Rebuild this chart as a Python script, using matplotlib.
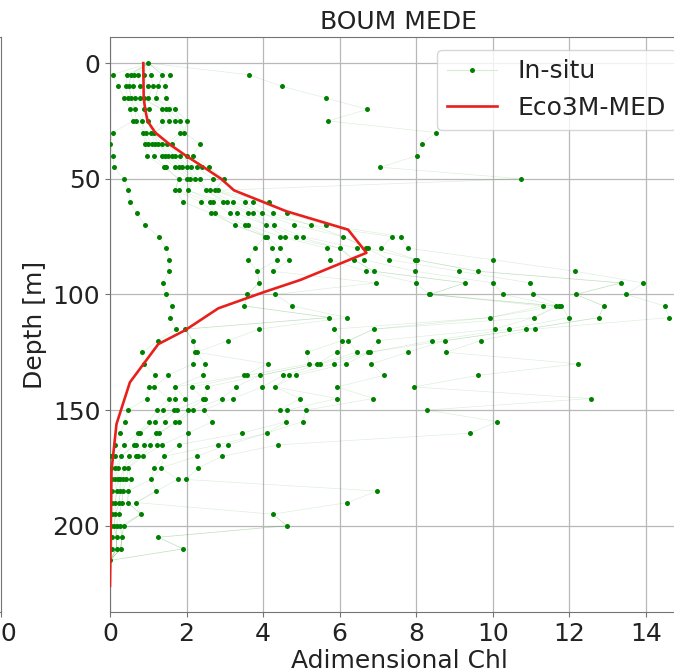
import matplotlib
matplotlib.use('Agg')
import matplotlib.pyplot as plt
from matplotlib.lines import Line2D

# ---------------- data ----------------
depths = [0, 5, 10, 15, 20, 25, 30, 35, 40, 45, 50, 55, 60, 65, 70, 75, 80, 85,
          90, 95, 100, 105, 110, 115, 120, 125, 130, 135, 140, 145, 150, 155,
          160, 165, 170, 175, 180, 185, 190, 195, 200, 205, 210, 215]

insitu = [
    [1.0],
    [0.07, 0.45, 0.54, 0.63, 0.72, 0.88, 1.07, 1.37, 1.56, 3.63],
    [0.22, 0.41, 0.50, 0.60, 0.79, 0.98, 1.12, 1.26, 1.43, 4.49],
    [0.36, 0.46, 0.55, 0.65, 0.79, 0.88, 1.0, 1.19, 1.45, 5.63],
    [0.52, 0.65, 0.88, 1.03, 1.36, 1.45, 1.55, 1.69, 6.72],
    [0.60, 0.69, 0.84, 1.0, 1.36, 1.53, 1.69, 1.83, 2.02, 5.70],
    [0.07, 0.87, 0.93, 1.07, 1.16, 1.83, 1.94, 8.52],
    [0.0, 0.91, 1.0, 1.09, 1.17, 1.26, 1.35, 1.48, 1.61, 2.35, 8.14],
    [0.09, 0.96, 1.15, 1.35, 1.44, 1.52, 1.61, 1.70, 1.83, 2.0, 2.17, 8.02],
    [0.10, 1.41, 1.45, 1.69, 1.79, 1.88, 2.02, 2.12, 2.26, 2.40, 2.59, 7.06],
    [0.36, 1.79, 2.02, 2.10, 2.21, 2.36, 2.69, 2.97, 10.75],
    [0.48, 1.71, 1.80, 2.04, 2.52, 2.61, 2.74, 2.83],
    [0.52, 1.91, 2.38, 2.61, 2.70, 2.96, 3.05, 3.22, 3.52, 3.74, 4.16],
    [0.70, 2.65, 2.74, 3.13, 3.33, 3.60, 3.73, 3.96, 4.25, 4.62],
    [0.91, 3.26, 3.53, 3.60, 4.08, 4.28, 4.80, 5.26, 5.65],
    [1.28, 4.05, 4.10, 4.44, 4.56, 4.87, 5.03, 6.08, 7.36, 7.61],
    [1.46, 3.78, 4.22, 4.43, 5.66, 6.0, 6.46, 6.70, 6.74, 7.09, 7.78],
    [1.55, 3.61, 4.37, 4.68, 5.76, 6.37, 6.63, 7.30, 7.97, 8.02, 10.0],
    [1.53, 3.85, 4.25, 6.68, 6.89, 7.97, 9.12, 9.62, 12.15],
    [1.39, 3.89, 6.94, 7.99, 9.27, 10.0, 10.97, 13.35, 13.93],
    [1.45, 3.59, 4.32, 8.34, 8.37, 10.27, 11.06, 12.17, 13.49],
    [1.62, 3.51, 4.76, 11.31, 11.66, 11.73, 11.79, 12.9, 14.49],
    [1.58, 5.73, 6.20, 9.93, 11.07, 11.98, 12.77, 14.61],
    [1.72, 1.96, 3.89, 5.84, 6.89, 10.05, 10.43, 10.87, 11.09],
    [1.26, 2.17, 3.09, 6.06, 6.23, 6.99, 8.41, 8.74, 9.68],
    [0.84, 2.23, 2.26, 5.14, 5.92, 6.45, 6.75, 6.79, 7.79, 8.77],
    [0.88, 2.17, 2.49, 4.12, 5.20, 5.41, 5.49, 5.84, 6.17, 6.83, 12.23],
    [1.18, 1.51, 2.43, 3.51, 3.59, 3.92, 4.52, 4.68, 4.87, 7.15, 9.62],
    [1.01, 1.16, 1.69, 2.13, 2.53, 3.28, 3.98, 4.31, 5.94, 7.93],
    [0.96, 1.55, 1.71, 1.96, 2.43, 2.48, 2.92, 3.21, 4.97, 5.94, 6.88, 12.56],
    [0.46, 1.22, 1.39, 1.67, 1.74, 2.04, 2.17, 2.45, 4.43, 4.63, 5.12, 8.27],
    [0.39, 1.01, 1.17, 1.43, 1.71, 1.79, 2.67, 4.61, 5.03, 10.12],
    [0.25, 0.72, 0.79, 1.20, 1.28, 2.03, 3.44, 4.09, 9.41],
    [0.14, 0.36, 0.62, 0.68, 0.88, 1.04, 1.22, 1.36, 1.79, 2.83, 3.09, 4.40],
    [0.03, 0.12, 0.29, 0.50, 0.67, 0.74, 0.86, 1.41, 2.26, 2.93],
    [0.03, 0.14, 0.22, 0.36, 0.48, 1.14, 1.33, 2.31],
    [0.06, 0.12, 0.20, 0.27, 0.34, 0.43, 0.55, 1.07, 1.77, 1.98],
    [0.06, 0.17, 0.27, 0.34, 0.48, 1.20, 6.98],
    [0.06, 0.14, 0.24, 0.31, 0.46, 0.69, 6.20],
    [0.06, 0.14, 0.24, 0.81, 4.25],
    [0.03, 0.10, 0.17, 0.27, 0.36, 4.62],
    [0.06, 0.17, 0.31, 1.26],
    [0.06, 0.17, 0.28, 1.91],
    [0.0],
]

model_depth = [0, 15, 20, 25, 30, 35, 40, 45, 50, 55, 64, 72, 82, 93.7, 99, 106,
               115.5, 121.5, 138, 156, 176, 226]
model_chl = [0.87, 0.88, 0.92, 0.98, 1.18, 1.55, 1.98, 2.45, 2.9, 3.24, 4.6, 6.22,
             6.7, 4.98, 4.02, 2.83, 1.96, 1.26, 0.52, 0.17, 0.04, 0.0]

title = 'BOUM MEDE'
xlabel = 'Adimensional Chl'
ylabel = 'Depth [m]'
xticks = [0, 2, 4, 6, 8, 10, 12, 14]
yticks = [0, 50, 100, 150, 200]
neighbour_xticks = [10]

# ---------------- figure ----------------
W, H = 674, 668
fig = plt.figure(figsize=(W / 100, H / 100), dpi=100)
FS = 18
spine_c = '0.45'
text_c = '#222222'

# neighbouring panel (only its right edge is visible)
axn = fig.add_axes([-0.6, 1 - 612 / H, 0.6 + 1.0 / W, (612 - 37) / H])
axn.set_xlim(0, 10)
axn.set_xticks(neighbour_xticks)
axn.set_yticks([])
axn.tick_params(labelsize=FS, colors=spine_c, labelcolor=text_c)
for s in axn.spines.values():
    s.set_color(spine_c)

ax = fig.add_axes([110 / W, 1 - 612 / H, (688 - 110) / W, (612 - 37) / H])

# faint connecting lines (profiles built by rank at each depth)
K = max(len(v) for v in insitu)
for k in range(K):
    xs = []
    for v in insitu:
        sv = sorted(v)
        xs.append(sv[round(k * (len(sv) - 1) / (K - 1))])
    ax.plot(xs, depths, color='green', lw=0.5, alpha=0.13, zorder=2)

allx, ally = [], []
for d, v in zip(depths, insitu):
    allx += v
    ally += [d] * len(v)
ax.plot(allx, ally, linestyle='none', marker='o', ms=3.6, color='green',
        mec='green', mew=0, zorder=3)

ax.plot(model_chl, model_depth, color='#e8201c', lw=1.9, zorder=4)

ax.set_xlim(0, 15.1)
ax.set_ylim(237.3, -11.3)
ax.set_xticks(xticks)
ax.set_yticks(yticks)
ax.grid(True, color='#b8b8b8', lw=0.9)
ax.set_axisbelow(True)
ax.tick_params(labelsize=FS, colors=spine_c, labelcolor=text_c)
for s in ax.spines.values():
    s.set_color(spine_c)

ax.set_title(title, fontsize=FS, color=text_c)
ax.set_xlabel(xlabel, fontsize=FS, color=text_c, labelpad=2)
ax.set_ylabel(ylabel, fontsize=FS, color=text_c)

h1 = Line2D([], [], color='#d8ead8', lw=0.8, marker='o', ms=3.6,
            mfc='green', mec='green', mew=0)
h2 = Line2D([], [], color='#e8201c', lw=1.9)
leg = ax.legend([h1, h2], ['In-situ', 'Eco3M-MED'], loc='upper right', fontsize=FS)
for t in leg.get_texts():
    t.set_color(text_c)

fig.savefig('out.png', dpi=100)
